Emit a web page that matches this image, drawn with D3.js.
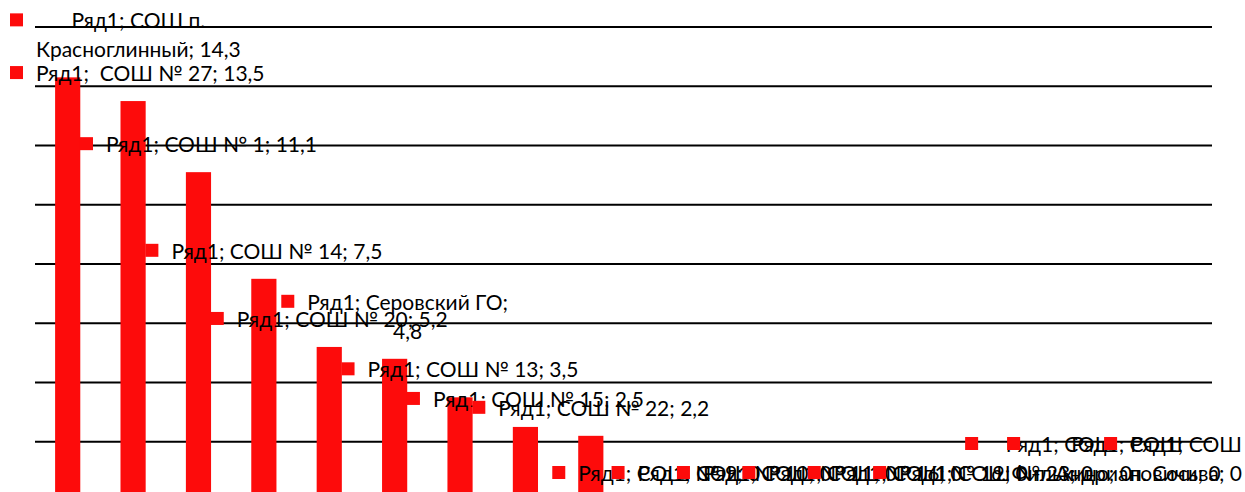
<!DOCTYPE html>
<html>
<head>
<meta charset="utf-8">
<script src="https://cdn.jsdelivr.net/npm/d3@7"></script>
<style>
  body { margin: 0; background: #fff; }
  svg { display: block; }
  text { font-family: Lato, "Open Sans", sans-serif; font-size: 21px; fill: #000; white-space: pre; }
</style>
</head>
<body>
<div id="chart"></div>
<script>
const seriesName = "Ряд1";
const schools = [
  "СОШ п. Красноглинный", " СОШ № 27", "СОШ № 1", "СОШ № 14", "СОШ № 20", "Серовский ГО",
  "СОШ № 13", "СОШ № 15", "СОШ № 22", "СОШ № 9", "СОШ № 10", "СОШ № 11",
  "СОШ № 16", "СОШ № 19", "СОШ № 23", "СОШ с. Филькино", "СОШ п. Андриановичи", "СОШ п. Сосьва"
];
const values = [14.3, 13.5, 11.1, 7.5, 5.2, 4.8, 3.5, 2.5, 2.2, 0, 0, 0, 0, 0, 0, 0, 0, 0];
const yTicks = [2, 4, 6, 8, 10, 12, 14, 16];
// number of words on the first line of labels that wrap onto two lines
const firstLineWords = { 0: 3, 5: 3, 15: 2, 16: 2, 17: 2 };

const w = 1245, h = 492;
const padL = 35, padR = 1212, plotTop = 27, base = 501;

const svg = d3.select("#chart").append("svg")
  .attr("width", w).attr("height", h);

const x = d3.scaleBand()
  .domain(schools)
  .range([padL, padR])
  .paddingInner(0.615)
  .paddingOuter(0.3075);

const y = d3.scaleLinear()
  .domain([0, 16])
  .range([base, plotTop]);

// gridlines
svg.append("g")
  .selectAll("line")
  .data(yTicks)
  .enter()
  .append("line")
  .attr("x1", padL).attr("x2", padR)
  .attr("y1", d => y(d)).attr("y2", d => y(d))
  .attr("stroke", "#000")
  .attr("stroke-width", 2);

// bars
svg.append("g")
  .selectAll("rect")
  .data(values)
  .enter()
  .append("rect")
  .attr("x", (d, i) => x(schools[i]))
  .attr("y", d => y(d))
  .attr("width", x.bandwidth())
  .attr("height", d => base - y(d))
  .attr("fill", "#fd0b0b");

// data labels
const fmt = v => String(v).replace(".", ",");
const lineH = 29, markerSize = 13, gap = 13;

values.forEach((v, i) => {
  const full = seriesName + "; " + schools[i] + "; " + fmt(v);
  let lines = [full];
  if (firstLineWords[i]) {
    const words = full.split(" ");
    const n = firstLineWords[i];
    lines = [words.slice(0, n).join(" "), words.slice(n).join(" ")];
  }
  const g = svg.append("g");
  const texts = lines.map(t => g.append("text").text(t));
  const widths = texts.map(t => t.node().getComputedTextLength());
  const tw = d3.max(widths);
  const blockW = markerSize + gap + tw;
  const cx = x(schools[i]) + x.bandwidth() / 2;
  let bx = cx - blockW / 2;
  bx = Math.max(10, Math.min(bx, w - 3 - blockW));
  const bottom = y(v) - 14;
  const firstCy = bottom - lines.length * lineH + lineH / 2;
  const tx = bx + markerSize + gap + tw / 2;
  texts.forEach((t, k) => {
    t.attr("x", tx)
     .attr("y", firstCy + k * lineH)
     .attr("text-anchor", "middle")
     .attr("dominant-baseline", "central");
  });
  g.insert("rect", "text")
    .attr("x", bx)
    .attr("y", firstCy - markerSize / 2)
    .attr("width", markerSize)
    .attr("height", markerSize)
    .attr("fill", "#fd0b0b");
});
</script>
</body>
</html>
